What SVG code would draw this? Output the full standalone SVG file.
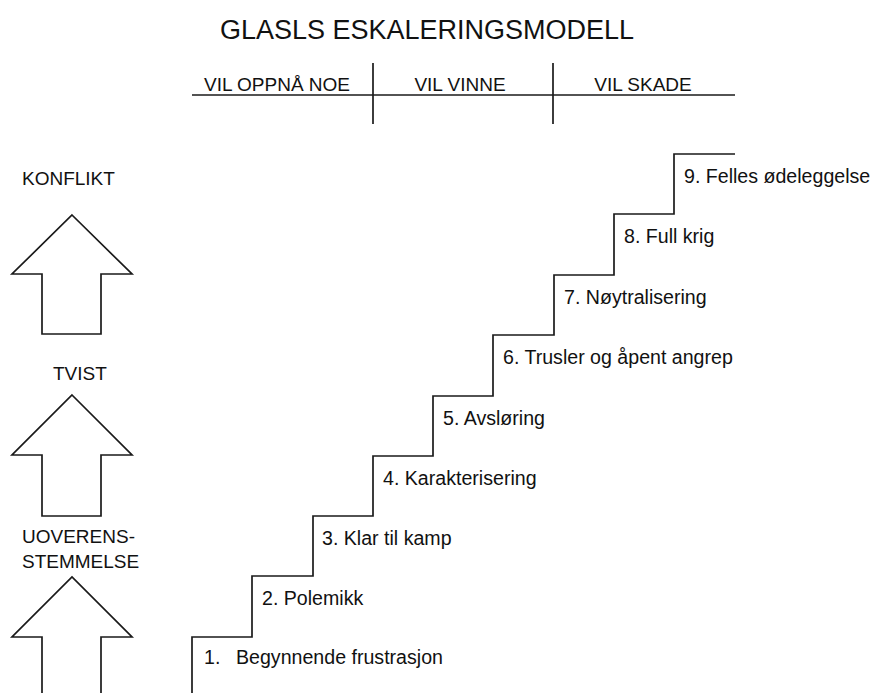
<svg xmlns="http://www.w3.org/2000/svg" width="871" height="693" viewBox="0 0 871 693">
<style>
text{font-family:"Liberation Sans",Arial,Helvetica,sans-serif;fill:#111;}
.t{font-size:27px;}
.l{font-size:19px;}
.s{font-size:19.6px;}
.ln{fill:none;stroke:#1a1a1a;stroke-width:1.7;stroke-linejoin:miter;}
</style>
<rect width="871" height="693" fill="#fff"/>
<text class="t" x="427" y="39" text-anchor="middle">GLASLS ESKALERINGSMODELL</text>
<g id="header">
<line class="ln" x1="192" y1="95" x2="735" y2="95"/>
<line class="ln" x1="373" y1="63" x2="373" y2="124"/>
<line class="ln" x1="553" y1="63" x2="553" y2="124"/>
<text class="l" x="277" y="91" text-anchor="middle">VIL OPPNÅ NOE</text>
<text class="l" x="460" y="91" text-anchor="middle">VIL VINNE</text>
<text class="l" x="643" y="91" text-anchor="middle">VIL SKADE</text>
</g>
<g id="arrow-konflikt">
<text class="l" x="22" y="185">KONFLIKT</text>
<path class="ln" d="M72,215 L132,274 L101,274 L101,334 L42,334 L42,274 L12,274 Z"/>
</g>
<g id="arrow-tvist">
<text class="l" x="53" y="380">TVIST</text>
<path class="ln" d="M72,395 L132,455 L101,455 L101,516 L42,516 L42,455 L12,455 Z"/>
</g>
<g id="arrow-uoverensstemmelse">
<text class="l" x="22" y="543">UOVERENS-</text>
<text class="l" x="22" y="568">STEMMELSE</text>
<path class="ln" d="M42,700 L42,637 L12,637 L72,577 L132,637 L101,637 L101,700"/>
</g>
<g id="staircase">
<path class="ln" d="M192,700 L192,637 L252,637 L252,576 L313,576 L313,516 L373,516 L373,456 L433,456 L433,396 L493,396 L493,335 L554,335 L554,275 L614,275 L614,214 L674,214 L674,154 L735,154"/>
</g>
<g id="step1"><text class="s" x="204" y="664">1.<tspan x="236">Begynnende frustrasjon</tspan></text></g>
<g id="step2"><text class="s" x="262" y="605">2. Polemikk</text></g>
<g id="step3"><text class="s" x="322" y="545">3. Klar til kamp</text></g>
<g id="step4"><text class="s" x="383" y="485">4. Karakterisering</text></g>
<g id="step5"><text class="s" x="443" y="425">5. Avsløring</text></g>
<g id="step6"><text class="s" x="503" y="364">6. Trusler og åpent angrep</text></g>
<g id="step7"><text class="s" x="564" y="304">7. Nøytralisering</text></g>
<g id="step8"><text class="s" x="624" y="243">8. Full krig</text></g>
<g id="step9"><text class="s" x="684" y="183">9. Felles ødeleggelse</text></g>
</svg>
